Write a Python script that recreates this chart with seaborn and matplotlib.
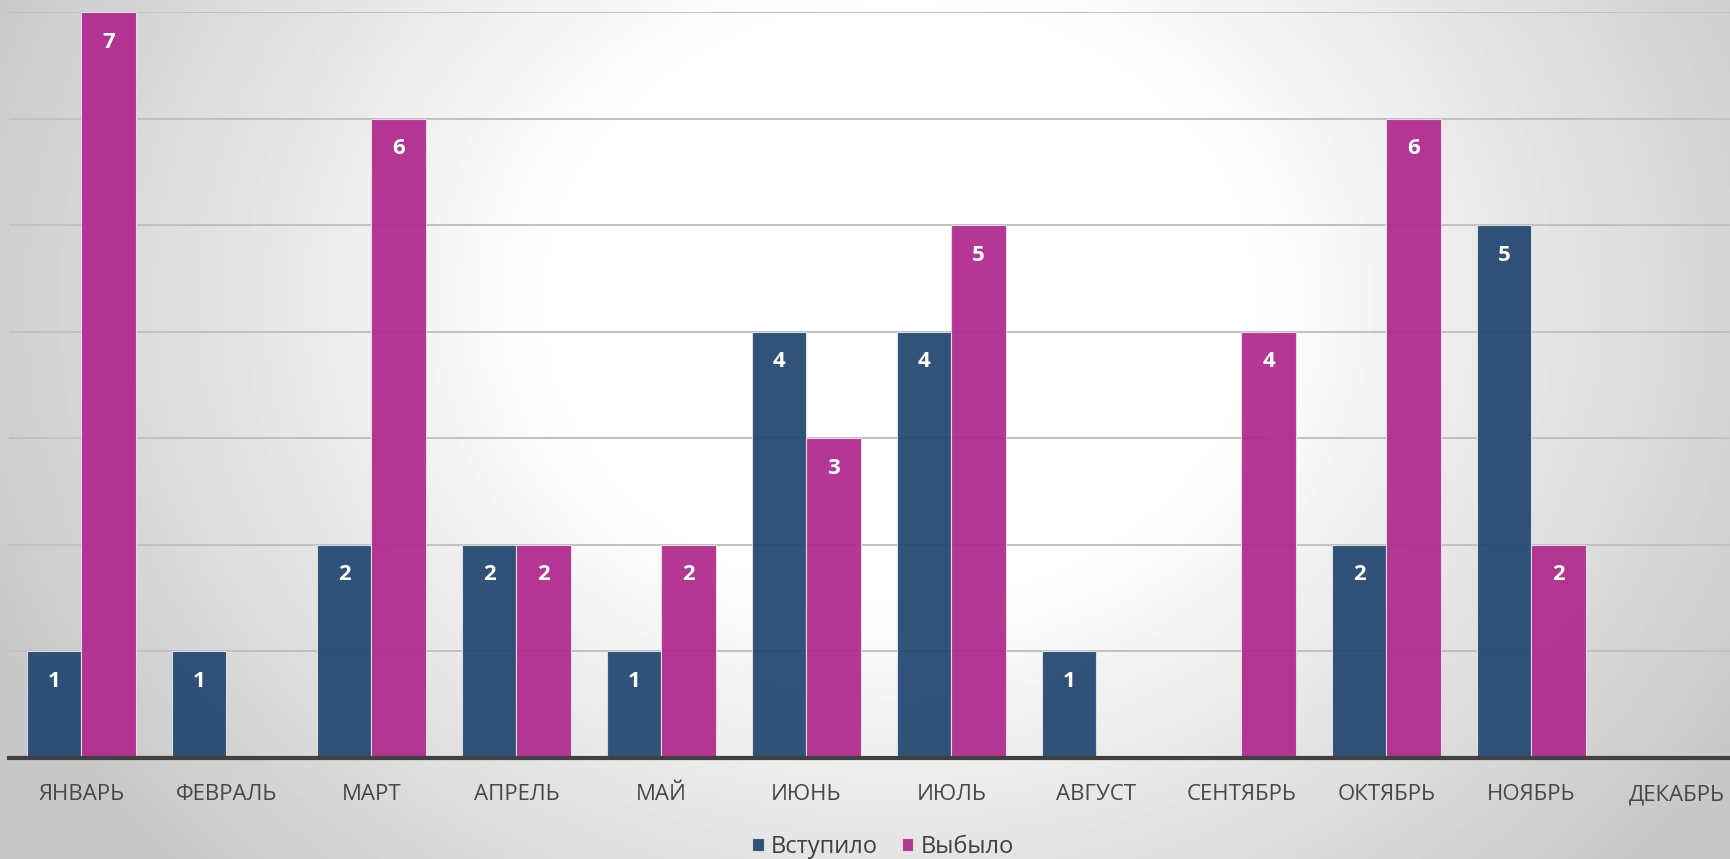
import numpy as np
import pandas as pd
import matplotlib
matplotlib.use('Agg')
import matplotlib.pyplot as plt
import seaborn as sns

months = ['ЯНВАРЬ', 'ФЕВРАЛЬ', 'МАРТ', 'АПРЕЛЬ', 'МАЙ', 'ИЮНЬ',
          'ИЮЛЬ', 'АВГУСТ', 'СЕНТЯБРЬ', 'ОКТЯБРЬ', 'НОЯБРЬ', 'ДЕКАБРЬ']
joined = [1, 1, 2, 2, 1, 4, 4, 1, 0, 2, 5, 0]
left = [7, 0, 6, 2, 2, 3, 5, 0, 4, 6, 2, 0]
series_names = ['Вступило', 'Выбыло']
colors = ['#244872', '#b02a8e']

df = pd.DataFrame({
    'month': months * 2,
    'value': joined + left,
    'series': [series_names[0]] * 12 + [series_names[1]] * 12,
})

sns.set_style('white')
plt.rcParams['font.family'] = ['Open Sans', 'Noto Sans', 'DejaVu Sans']

W, H = 1731, 859
fig = plt.figure(figsize=(W / 100, H / 100), dpi=100)

# background gradient: white middle, grey edges
bg = fig.add_axes([0, 0, 1, 1])
yy, xx = np.mgrid[0:1:200j, 0:1:400j]
r = np.sqrt(((xx - 0.52) / 0.5) ** 2 + ((yy - 0.35) / 0.85) ** 2)
grad = 1.0 - 0.22 * np.clip((r - 0.4) / 0.75, 0, 1)
bg.imshow(grad, cmap='gray', vmin=0, vmax=1, aspect='auto', extent=[0, 1, 0, 1], origin='upper')
bg.axis('off')

ax = fig.add_axes([9 / W, (H - 758) / H, 1740 / W, (758 - 12) / H])
ax.patch.set_alpha(0)

sns.barplot(data=df, x='month', y='value', hue='series', order=months,
            hue_order=series_names, palette=colors, saturation=1, width=0.75,
            alpha=0.94, edgecolor='#e0e0e0', linewidth=0.8, ax=ax, zorder=2)

ax.set_ylim(0, 7)
ax.set_yticks(range(1, 8))
ax.yaxis.grid(True, color='#c0c0c0', linewidth=1.4, zorder=0)
ax.set_axisbelow(True)
ax.set_yticklabels([])
ax.tick_params(axis='y', length=0)
ax.tick_params(axis='x', length=0, pad=19, labelsize=16, labelcolor='#484848')
ax.set_xlabel('')
ax.set_ylabel('')
for s in ['top', 'right', 'left']:
    ax.spines[s].set_visible(False)
ax.spines['bottom'].set_color('#404040')
ax.spines['bottom'].set_linewidth(3)
ax.spines['bottom'].set_zorder(5)

for cont in ax.containers:
    for bar in cont:
        h = bar.get_height()
        if h > 0:
            ax.annotate(f'{int(h)}', xy=(bar.get_x() + bar.get_width() / 2, h),
                        xytext=(0, -30), textcoords='offset pixels',
                        ha='center', va='center', color='white',
                        fontsize=16, fontweight='bold', zorder=6)

ax.legend(loc='center', bbox_to_anchor=(883 / W, 12 / H), bbox_transform=fig.transFigure,
          ncol=2, frameon=False, fontsize=17, handlelength=0.5, handleheight=0.5,
          handletextpad=0.3, columnspacing=1.0, labelcolor='#404040')

fig.savefig('out.png', dpi=100)
